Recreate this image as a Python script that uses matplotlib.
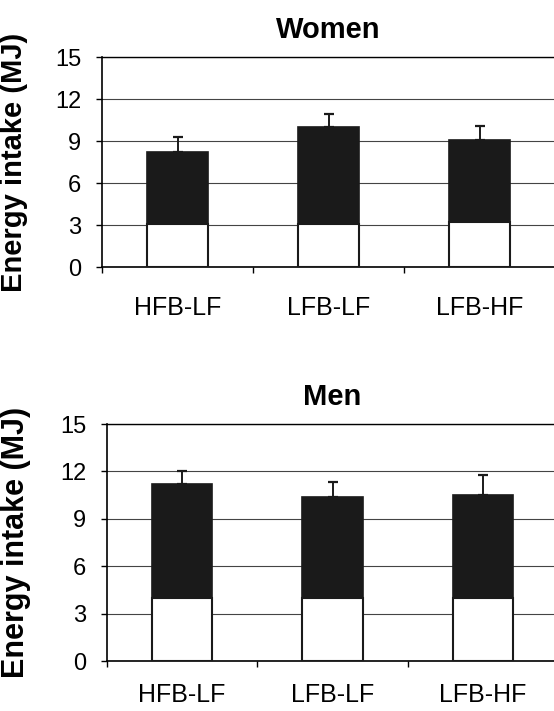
import matplotlib.pyplot as plt

# Werte (MJ)
categories = ["HFB-LF", "LFB-LF", "LFB-HF"]
women_total = [8.2, 10.0, 9.1]
women_white = [3.1, 3.1, 3.2]
women_err_top = [9.3, 10.9, 10.1]
men_total = [11.2, 10.4, 10.5]
men_white = [4.0, 4.0, 4.0]
men_err_top = [12.0, 11.3, 11.8]
y_ticks = [0, 3, 6, 9, 12, 15]

FIG_W, FIG_H = 554, 711
plt.rcParams['font.family'] = ['Liberation Sans', 'DejaVu Sans']


# Erstellt eine Achse aus Pixelkoordinaten (links, oben, rechts, unten)
def pixel_axes(fig, left, top, right, bottom):
    return fig.add_axes([left / FIG_W, 1 - bottom / FIG_H,
                         (right - left) / FIG_W, (bottom - top) / FIG_H])


# Zeichnet ein Panel mit gestapelten Balken und Fehlerbalken nach oben
def draw_panel(ax, title, total, white, err_top, label_x, label_size, xpad):
    x = [i + 0.5 for i in range(len(categories))]
    ax.set_axisbelow(True)
    ax.yaxis.grid(True, color="#444444", linewidth=0.8)
    ax.bar(x, total, width=0.4, color="#1a1a1a", edgecolor="#1a1a1a", linewidth=1.2, zorder=2)
    ax.bar(x, white, width=0.4, color="white", edgecolor="#1a1a1a", linewidth=1.5, zorder=3)
    yerr = [[0] * len(total), [e - t for e, t in zip(err_top, total)]]
    ax.errorbar(x, total, yerr=yerr, fmt="none", ecolor="#1a1a1a", elinewidth=1.4,
                capsize=3.6, capthick=1.6, zorder=1)

    ax.set_xlim(0, 3)
    ax.set_ylim(0, 15)
    ax.set_yticks(y_ticks)
    ax.set_xticks([0, 1, 2, 3])
    ax.set_xticklabels([])
    ax.set_xticks(x, minor=True)
    ax.set_xticklabels(categories, minor=True, fontsize=18)
    ax.tick_params(axis="x", which="major", direction="out", length=4, width=1)
    ax.tick_params(axis="x", which="minor", length=0, pad=xpad)
    ax.tick_params(axis="y", direction="out", length=4, width=1, labelsize=17, pad=11)

    ax.spines["right"].set_visible(False)
    ax.spines["top"].set_linewidth(1.0)
    ax.spines["left"].set_linewidth(1.2)
    ax.spines["bottom"].set_linewidth(1.2)

    ax.set_title(title, fontsize=21, fontweight="bold", pad=14)
    ax.set_ylabel("Energy intake (MJ)", fontsize=label_size, fontweight="bold")
    ax.yaxis.set_label_coords(label_x, 0.5)


def main():
    fig = plt.figure(figsize=(FIG_W / 100, FIG_H / 100), dpi=100)

    ax_w = pixel_axes(fig, 102, 57, 555, 267)
    draw_panel(ax_w, "Women", women_total, women_white, women_err_top,
               (28 - 102) / 453, 21, 21)

    ax_m = pixel_axes(fig, 107, 424, 558, 661)
    draw_panel(ax_m, "Men", men_total, men_white, men_err_top,
               (31 - 107) / 451, 22, 16)

    fig.savefig("out.png", dpi=100)


if __name__ == "__main__":
    main()
